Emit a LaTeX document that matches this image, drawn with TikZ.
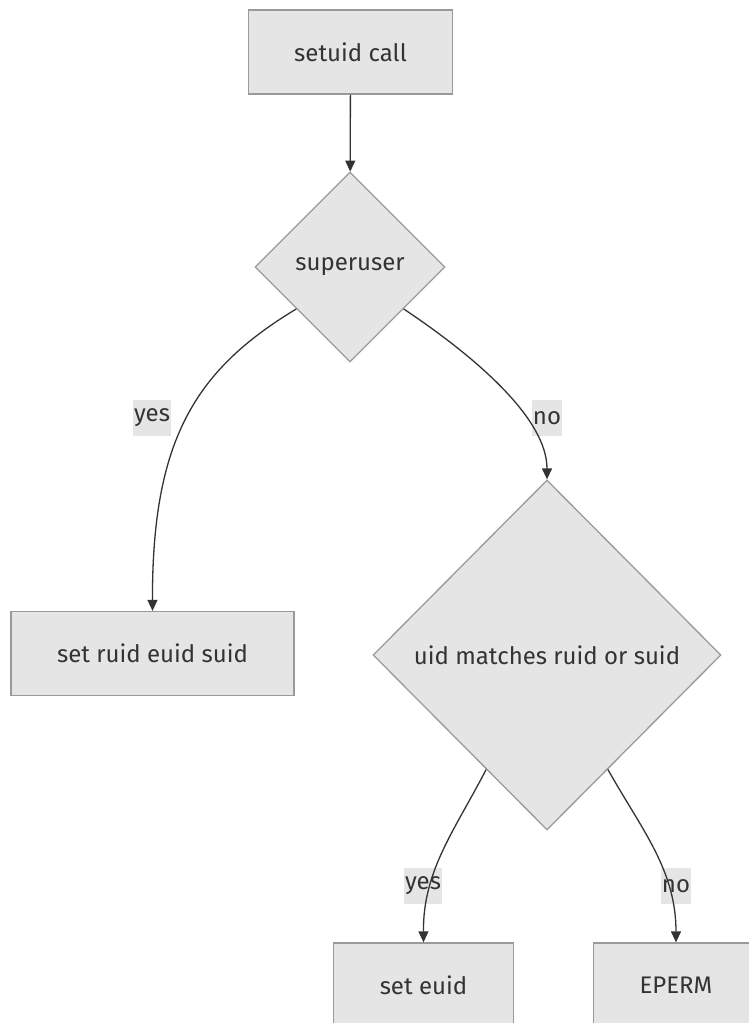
\documentclass[tikz,border=0pt]{standalone}
\usepackage{fontspec}
\setmainfont{Fira Sans}
\usetikzlibrary{arrows.meta,shapes.geometric}
\definecolor{boxfill}{HTML}{E5E5E5}
\definecolor{boxline}{HTML}{9A9A9A}
\definecolor{ink}{HTML}{333333}
\newcommand{\chartfont}{\fontsize{24}{28}\selectfont}
\tikzset{
  block/.style={draw=boxline,fill=boxfill,line width=1.3pt,text=ink,font=\chartfont,inner xsep=46pt,minimum height=84pt},
  decision/.style={diamond,aspect=1,draw=boxline,fill=boxfill,line width=1.3pt,text=ink,font=\chartfont,inner sep=0pt},
  edge/.style={-{Triangle[length=11pt,width=10pt]},line width=1.3pt,draw=ink},
  answer/.style={fill=boxfill,text=ink,font=\chartfont,inner xsep=1pt,minimum height=36pt}
}

\begin{document}
\begin{tikzpicture}[x=1pt,y=-1pt]
  \path[use as bounding box] (0,0) rectangle (749,1023);
  \clip (0,0) rectangle (749,1023);

  % steps and tests
  \node[block] (call) at (350.5,52) {setuid call};
  \node[decision,minimum width=190pt,minimum height=190pt] (super) at (350,267) {superuser};
  \node[block] (setall) at (152.5,653.5) {set ruid euid suid};
  \node[decision,minimum width=348pt,minimum height=350pt] (match) at (547,655) {uid matches ruid or suid};
  \node[block] (seteuid) at (423.5,985) {set euid};
  \node[block] (eperm) at (676,985) {EPERM};

  % answers on the branches
  \node[answer] (superyes) at (152,418) {yes};
  \node[answer] (superno) at (547,418) {no};
  \node[answer] (matchyes) at (423,886) {yes};
  \node[answer] (matchno) at (676,886) {no};

  \draw[edge] (call) -- (super);
  \draw[edge] (super.218) .. controls (195,370) and (152,440) .. (setall.north);
  \draw[edge] (super.322) .. controls (480,360) and (547,420) .. (match.north);
  \draw[edge] (match.242) .. controls (455,830) and (423,870) .. (seteuid.north);
  \draw[edge] (match.298) .. controls (642,830) and (676,870) .. (eperm.north);
\end{tikzpicture}
\end{document}
